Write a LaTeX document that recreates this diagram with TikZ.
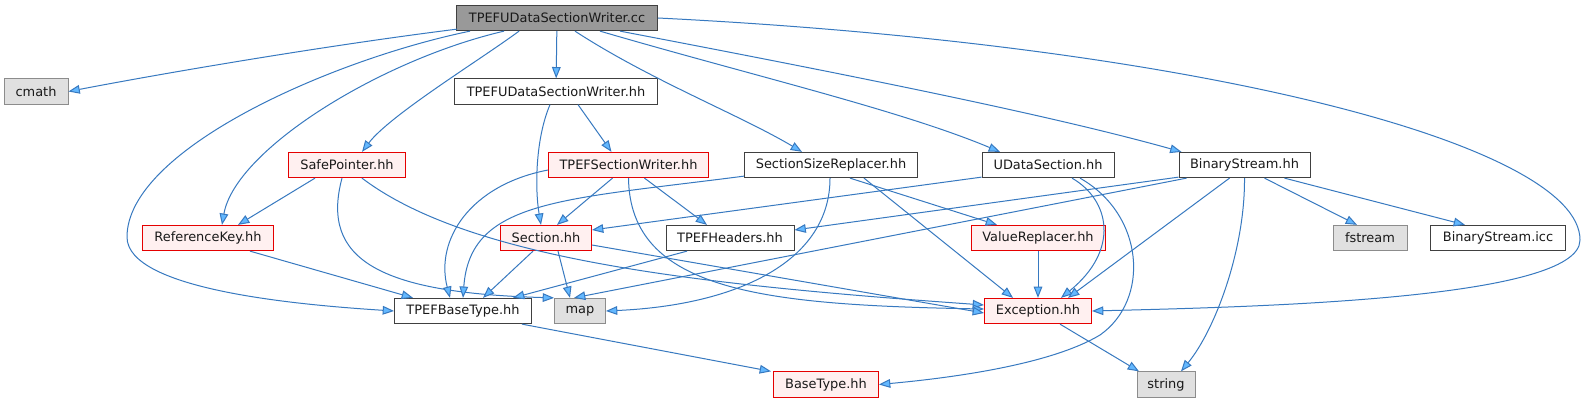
\documentclass[tikz,border=0pt]{standalone}
\usepackage{fontspec}
\setmainfont{DejaVu Sans}
\usetikzlibrary{arrows.meta, calc}
\definecolor{edgeblue}{HTML}{3779C0}
\definecolor{tipblue}{HTML}{63B8FF}
\definecolor{truncfill}{HTML}{FFF0F0}
\definecolor{sysfill}{HTML}{E0E0E0}
\tikzset{
    file/.style={rectangle, draw=black!75, line width=0.7pt, fill=white, minimum height=19pt, inner sep=0pt, font=\fontsize{9.7}{11}\selectfont, text=black!90},
    mainfile/.style={file, fill=black!40, draw=black!75},
    trunc/.style={file, draw=red!90!black, fill=truncfill},
    sysinc/.style={file, draw=black!45, fill=sysfill},
    dep/.style={draw=edgeblue, line width=0.75pt, -{Triangle[length=8.5pt, width=6.5pt, fill=tipblue]}}
}

\begin{document}
\begin{tikzpicture}[x=0.75pt, y=-0.75pt]
        \fill[white] (0,0) rectangle (1588,403);
        \useasboundingbox (0,0) rectangle (1588,403);

        % source file
        \node (cc) [mainfile, minimum width=150.75pt] at (557,18) {TPEFUDataSectionWriter.cc};

        % second row
        \node (cmath) [sysinc, minimum width=48pt] at (36,91.5) {cmath};
        \node (udsw) [file, minimum width=152.25pt] at (556,91.5) {TPEFUDataSectionWriter.hh};

        % third row
        \node (safeptr) [trunc, minimum width=87.75pt] at (347,165) {SafePointer.hh};
        \node (secwr) [trunc, minimum width=120pt] at (628.5,165) {TPEFSectionWriter.hh};
        \node (ssr) [file, minimum width=129.75pt] at (831,165) {SectionSizeReplacer.hh};
        \node (udata) [file, minimum width=99pt] at (1048,165) {UDataSection.hh};
        \node (bstream) [file, minimum width=98.25pt] at (1244.5,165) {BinaryStream.hh};

        % fourth row
        \node (refkey) [trunc, minimum width=98.25pt] at (208,238) {ReferenceKey.hh};
        \node (section) [trunc, minimum width=68.25pt] at (546,238) {Section.hh};
        \node (headers) [file, minimum width=96pt] at (730,238) {TPEFHeaders.hh};
        \node (valrep) [trunc, minimum width=100.5pt] at (1038,238) {ValueReplacer.hh};
        \node (fstream) [sysinc, minimum width=55.5pt] at (1370,238) {fstream};
        \node (bsicc) [file, minimum width=101.25pt] at (1498,238) {BinaryStream.icc};

        % fifth row
        \node (tbt) [file, minimum width=102.75pt] at (463,311) {TPEFBaseType.hh};
        \node (map) [sysinc, minimum width=38.25pt] at (580,311) {map};
        \node (exc) [trunc, minimum width=80.25pt] at (1038,311) {Exception.hh};

        % last row
        \node (btype) [trunc, minimum width=78.75pt] at (826,384.5) {BaseType.hh};
        \node (string) [sysinc, minimum width=43.5pt] at (1166,384.5) {string};

        % includes of the source file
        \draw[dep] ($(cc.south west)+(1,-2)$) .. controls (330,45) and (170,72) .. (cmath.east);
        \draw[dep] ($(cc.south west)+(14,0)$) .. controls (330,60) and (127,150) .. (127,237) .. controls (127,290) and (300,305) .. (tbt.west);
        \draw[dep] ($(cc.south west)+(48,0)$) .. controls (380,60) and (235,150) .. ($(refkey.north)+(14,0)$);
        \draw[dep] ($(cc.south west)+(63,0)$) .. controls (480,60) and (390,115) .. ($(safeptr.north)+(15,0)$);
        \draw[dep] (cc) -- (udsw);
        \draw[dep] ($(cc.south)+(18,0)$) .. controls (650,80) and (740,115) .. ($(ssr.north)+(-29,0)$);
        \draw[dep] ($(cc.south)+(43,0)$) .. controls (750,75) and (900,110) .. ($(udata.north)+(-48,0)$);
        \draw[dep] ($(cc.south)+(63,0)$) .. controls (850,75) and (1050,115) .. ($(bstream.north)+(-63,0)$);
        \draw[dep] (cc.east) .. controls (1200,45) and (1580,145) .. (1580,240) .. controls (1580,300) and (1250,307) .. (exc.east);

        % second level
        \draw[dep] ($(udsw.south)+(22,0)$) -- ($(secwr.north)+(-17,0)$);
        \draw[dep] ($(udsw.south)+(-6,0)$) .. controls (535,140) and (535,190) .. ($(section.north)+(-5,0)$);
        \draw[dep] ($(safeptr.south)+(-32,0)$) -- ($(refkey.north)+(30,0)$);
        \draw[dep] ($(safeptr.south)+(-5,0)$) .. controls (320,260) and (380,293) .. (map.north west);
        \draw[dep] ($(safeptr.south)+(15,0)$) .. controls (470,260) and (700,285) .. ($(exc.west)+(0,-6)$);
        \draw[dep] ($(secwr.west)+(0,5)$) .. controls (470,185) and (435,240) .. ($(tbt.north)+(-13,0)$);
        \draw[dep] ($(secwr.south)+(-16,0)$) -- ($(section.north)+(11,0)$);
        \draw[dep] ($(secwr.south)+(16,0)$) -- ($(headers.north)+(-23,0)$);
        \draw[dep] (secwr.south) .. controls (630,290) and (760,305) .. ($(exc.west)+(0,-2)$);
        \draw[dep] ($(ssr.south west)+(0,-2)$) .. controls (560,200) and (470,200) .. (tbt.north);
        \draw[dep] ($(ssr.south)+(-1,0)$) .. controls (830,260) and (740,305) .. (map.east);
        \draw[dep] ($(ssr.south)+(19,0)$) -- ($(valrep.north)+(-41,0)$);
        \draw[dep] ($(ssr.south)+(33,0)$) -- ($(exc.north)+(-25,0)$);
        \draw[dep] ($(udata.south west)+(0,-1)$) -- ($(section.east)+(0,-8)$);
        \draw[dep] ($(udata.south)+(24,0)$) .. controls (1110,200) and (1120,250) .. ($(exc.north)+(23,0)$);
        \draw[dep] ($(udata.south)+(32,0)$) .. controls (1145,215) and (1150,300) .. (1100,335) .. controls (1050,365) and (950,378) .. (btype.east);
        \draw[dep] ($(bstream.south west)+(0,-1)$) -- ($(headers.east)+(0,-8)$);
        \draw[dep] ($(bstream.south west)+(8,0)$) -- ($(map.north)+(-6,0)$);
        \draw[dep] ($(bstream.south)+(-15,0)$) -- ($(exc.north)+(30,0)$);
        \draw[dep] (bstream.south) .. controls (1245,250) and (1215,330) .. ($(string.north)+(15,0)$);
        \draw[dep] ($(bstream.south)+(20,0)$) -- ($(fstream.north)+(-13,0)$);
        \draw[dep] ($(bstream.south)+(40,0)$) -- ($(bsicc.north)+(-33,0)$);

        % lower levels
        \draw[dep] ($(refkey.south)+(42,0)$) -- ($(tbt.north)+(-50,0)$);
        \draw[dep] ($(section.south)+(-13,0)$) -- ($(tbt.north)+(20,0)$);
        \draw[dep] ($(section.south)+(12,0)$) -- ($(map.north)+(-10,0)$);
        \draw[dep] ($(section.east)+(0,7)$) -- ($(exc.west)+(0,2)$);
        \draw[dep] ($(headers.south)+(-43,0)$) -- ($(tbt.north)+(50,0)$);
        \draw[dep] (valrep) -- (exc);
        \draw[dep] ($(tbt.south east)+(-10,0)$) -- ($(btype.north west)+(-2,0)$);
        \draw[dep] ($(exc.south)+(22,0)$) -- ($(string.north)+(-27,0)$);

    \end{tikzpicture}
\end{document}
